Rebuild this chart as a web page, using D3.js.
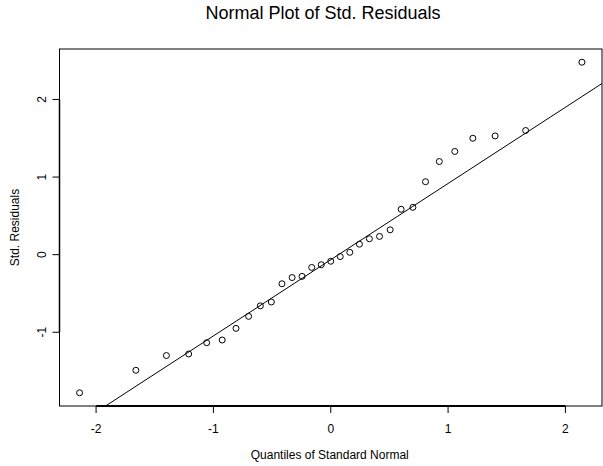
<!DOCTYPE html>
<html>
<head>
<meta charset="utf-8">
<script src="https://cdn.jsdelivr.net/npm/d3@7"></script>
<style>
  body { margin: 0; background: #fff; }
  text { font-family: "Liberation Sans", Arial, sans-serif; fill: #000; }
</style>
</head>
<body>
<script>
'use strict';
// theoretical quantiles (x) and sorted std. residuals (y)
let quantiles = [-2.1405, -1.6609, -1.4007, -1.2110, -1.0573, -0.9253, -0.8077, -0.7000,
  -0.6000, -0.5062, -0.4158, -0.3292, -0.2444, -0.1622, -0.0809, 0,
  0.0809, 0.1622, 0.2444, 0.3292, 0.4158, 0.5062, 0.6000, 0.7000,
  0.8077, 0.9253, 1.0573, 1.2110, 1.4007, 1.6609, 2.1405];
let residuals = [-1.78, -1.49, -1.30, -1.28, -1.135, -1.10, -0.95, -0.795,
  -0.66, -0.61, -0.375, -0.295, -0.28, -0.165, -0.13, -0.085,
  -0.025, 0.03, 0.135, 0.205, 0.235, 0.32, 0.585, 0.61,
  0.94, 1.20, 1.33, 1.50, 1.53, 1.60, 2.48];
let xTicks = [-2, -1, 0, 1, 2];
let yTicks = [-1, 0, 1, 2];
let qNorm75 = 0.6745;   // upper quartile of standard normal, for the reference line

let width = 603, height = 466;
let pLeft = 59.5, pRight = 602, pTop = 49, pBottom = 406;

let svg = d3.select("body").append("svg")
	.attr("width", width)
	.attr("height", height);

function padded(arr) {
	let e = d3.extent(arr), p = (e[1] - e[0]) * 0.04;
	return [e[0] - p, e[1] + p];
}

let x = d3.scaleLinear().domain(padded(quantiles)).range([pLeft, pRight]);
let y = d3.scaleLinear().domain(padded(residuals)).range([pBottom, pTop]);

svg.append("defs").append("clipPath").attr("id", "plotclip")
	.append("rect")
		.attr("x", pLeft).attr("y", pTop)
		.attr("width", pRight - pLeft).attr("height", pBottom - pTop);

// reference line through the quartiles (like qqline)
let q1 = d3.quantile(residuals, 0.25), q3 = d3.quantile(residuals, 0.75);
let slope = (q3 - q1) / (2 * qNorm75);
let intercept = q1 + slope * qNorm75;
let xd = x.domain();
svg.append("line")
	.attr("clip-path", "url(#plotclip)")
	.attr("x1", x(xd[0])).attr("y1", y(intercept + slope * xd[0]))
	.attr("x2", x(xd[1])).attr("y2", y(intercept + slope * xd[1]))
	.attr("stroke", "#000")
	.attr("stroke-width", 1);

svg.selectAll("circle")
	.data(quantiles)
	.enter().append("circle")
		.attr("cx", function(d,i){return x(d);})
		.attr("cy", function(d,i){return y(residuals[i]);})
		.attr("r", 3)
		.attr("fill", "none")
		.attr("stroke", "#000")
		.attr("stroke-width", 1);

// plot box
svg.append("rect")
	.attr("x", pLeft).attr("y", pTop)
	.attr("width", pRight - pLeft).attr("height", pBottom - pTop)
	.attr("fill", "none")
	.attr("stroke", "#000")
	.attr("stroke-width", 1);

// x axis
let xAxis = svg.append("g").attr("transform", "translate(0," + pBottom + ")");
xAxis.append("line")
	.attr("x1", x(xTicks[0])).attr("x2", x(xTicks[xTicks.length - 1]))
	.attr("stroke", "#000").attr("stroke-width", 2);
xAxis.selectAll("line.tick")
	.data(xTicks)
	.enter().append("line")
		.attr("class", "tick")
		.attr("x1", function(d){return x(d);}).attr("x2", function(d){return x(d);})
		.attr("y1", 0).attr("y2", 7)
		.attr("stroke", "#000");
xAxis.selectAll("text")
	.data(xTicks)
	.enter().append("text")
		.attr("x", function(d){return x(d);})
		.attr("y", 27)
		.attr("text-anchor", "middle")
		.attr("font-size", 12)
		.text(function(d){return d;});

// y axis
let yAxis = svg.append("g").attr("transform", "translate(" + pLeft + ",0)");
yAxis.append("line")
	.attr("y1", y(yTicks[0])).attr("y2", y(yTicks[yTicks.length - 1]))
	.attr("stroke", "#000").attr("stroke-width", 1.5);
yAxis.selectAll("line.tick")
	.data(yTicks)
	.enter().append("line")
		.attr("class", "tick")
		.attr("y1", function(d){return y(d);}).attr("y2", function(d){return y(d);})
		.attr("x1", 0).attr("x2", -7)
		.attr("stroke", "#000");
yAxis.selectAll("text")
	.data(yTicks)
	.enter().append("text")
		.attr("transform", function(d){return "translate(-14," + y(d) + ") rotate(-90)";})
		.attr("text-anchor", "middle")
		.attr("font-size", 12)
		.text(function(d){return d;});

// titles
svg.append("text")
	.attr("x", 323).attr("y", 19)
	.attr("text-anchor", "middle")
	.attr("font-size", 18)
	.text("Normal Plot of Std. Residuals");

svg.append("text")
	.attr("x", (pLeft + pRight) / 2 - 1).attr("y", 459)
	.attr("text-anchor", "middle")
	.attr("font-size", 12)
	.text("Quantiles of Standard Normal");

svg.append("text")
	.attr("transform", "translate(19," + ((pTop + pBottom) / 2) + ") rotate(-90)")
	.attr("text-anchor", "middle")
	.attr("font-size", 12)
	.text("Std. Residuals");
</script>
</body>
</html>
